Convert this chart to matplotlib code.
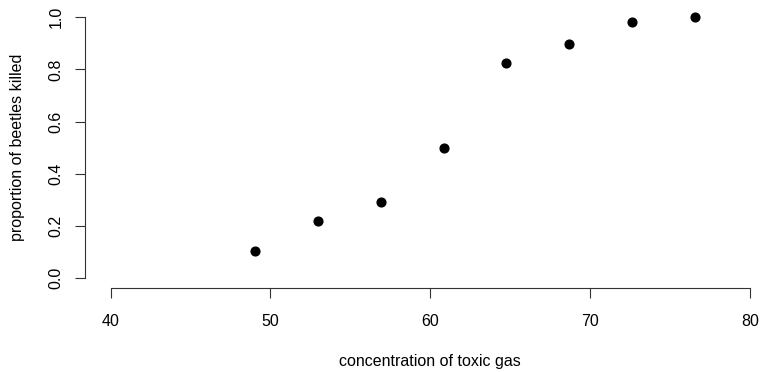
import matplotlib
matplotlib.use("Agg")
import matplotlib.pyplot as plt

# Beetle mortality data
concentration = [49.06, 52.99, 56.91, 60.84, 64.76, 68.69, 72.61, 76.54]
prop_killed = [0.102, 0.217, 0.290, 0.500, 0.825, 0.898, 0.984, 1.000]
x_ticks = [40, 50, 60, 70, 80]
y_ticks = [0.0, 0.2, 0.4, 0.6, 0.8, 1.0]

plt.rcParams['font.family'] = ['Liberation Sans', 'DejaVu Sans']

fig = plt.figure(figsize=(7.63, 3.72), dpi=100)
ax = fig.add_axes([0.1113, 0.2247, 0.9052, 0.7567])

ax.plot(concentration, prop_killed, linestyle="none", marker="o",
        markersize=6.3, color="black")

# R style: 4% padding around the limits, axes only span the ticks
ax.set_xlim(40 - 0.04 * 40, 80 + 0.04 * 40)
ax.set_ylim(-0.04, 1.04)
ax.set_xticks(x_ticks)
ax.set_xticklabels([str(t) for t in x_ticks])
ax.set_yticks(y_ticks)
ax.set_yticklabels(["%.1f" % t for t in y_ticks], rotation=90, va="center")

for side in ["top", "right"]:
    ax.spines[side].set_visible(False)
ax.spines["bottom"].set_bounds(40, 80)
ax.spines["left"].set_bounds(0, 1)
for side in ["bottom", "left"]:
    ax.spines[side].set_linewidth(0.8)
    ax.spines[side].set_color("#333333")

ax.tick_params(direction="out", length=7.5, width=0.8, color="#333333",
               labelsize=11.5)
ax.tick_params(axis="x", pad=11)
ax.tick_params(axis="y", pad=8)

ax.set_xlabel("concentration of toxic gas", fontsize=11.5, va="center")
ax.xaxis.set_label_coords(0.5, -0.258)
ax.set_ylabel("proportion of beetles killed", fontsize=11.5, va="center")
ax.yaxis.set_label_coords(-0.098, 0.5)

fig.savefig("out.png", dpi=100)
